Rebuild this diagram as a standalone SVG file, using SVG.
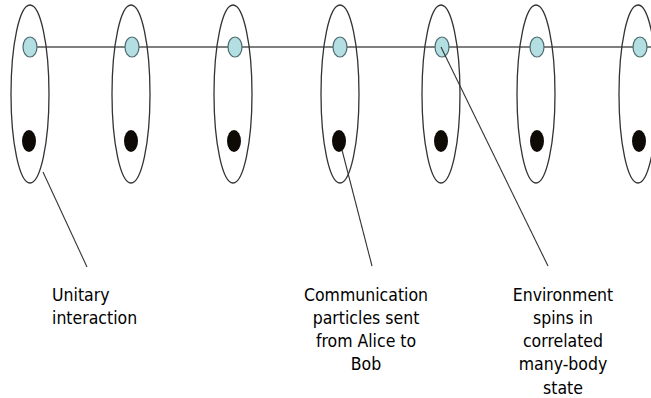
<svg xmlns="http://www.w3.org/2000/svg" width="651" height="398" viewBox="0 0 651 398">
<style>
.ring{fill:none;stroke:#333;stroke-width:1.3}
.spin{fill:#b4dfe2;stroke:#4d6a70;stroke-width:1.2}
.part{fill:#0e0a06}
.wire{stroke:#555;stroke-width:1.3;fill:none}
.lead{stroke:#333;stroke-width:1.1;fill:none}
text{font-family:"DejaVu Sans Condensed","DejaVu Sans",sans-serif;font-size:17.5px;fill:#000}
</style>
<rect width="651" height="398" fill="#fff"/>
<g id="connectors">
<line class="wire" x1="37" y1="47" x2="651" y2="47"/>
</g>
<g id="site1"><ellipse class="ring" cx="30" cy="94" rx="19" ry="89"/><ellipse class="spin" cx="30" cy="47" rx="7" ry="10"/><ellipse class="part" cx="29" cy="141" rx="7" ry="11"/></g>
<g id="site2"><ellipse class="ring" cx="131" cy="94" rx="19" ry="89"/><ellipse class="spin" cx="132" cy="47" rx="7" ry="10"/><ellipse class="part" cx="131" cy="141" rx="7" ry="11"/></g>
<g id="site3"><ellipse class="ring" cx="233" cy="94" rx="19" ry="89"/><ellipse class="spin" cx="235" cy="47" rx="7" ry="10"/><ellipse class="part" cx="234" cy="141" rx="7" ry="11"/></g>
<g id="site4"><ellipse class="ring" cx="340" cy="94" rx="19" ry="89"/><ellipse class="spin" cx="340" cy="47" rx="7" ry="10"/><ellipse class="part" cx="339" cy="141" rx="7" ry="11"/></g>
<g id="site5"><ellipse class="ring" cx="441" cy="94" rx="19" ry="89"/><ellipse class="spin" cx="442" cy="47" rx="7" ry="10"/><ellipse class="part" cx="441" cy="141" rx="7" ry="11"/></g>
<g id="site6"><ellipse class="ring" cx="536" cy="94" rx="19" ry="89"/><ellipse class="spin" cx="537" cy="47" rx="7" ry="10"/><ellipse class="part" cx="537" cy="141" rx="7" ry="11"/></g>
<g id="site7"><ellipse class="ring" cx="638" cy="94" rx="19" ry="89"/><ellipse class="spin" cx="640" cy="47" rx="7" ry="10"/><ellipse class="part" cx="639" cy="141" rx="7" ry="11"/></g>
<g id="leaders">
<line class="lead" x1="43" y1="172" x2="87" y2="267"/>
<line class="lead" x1="342" y1="150" x2="372" y2="266"/>
<line class="lead" x1="441" y1="47" x2="548" y2="266"/>
</g>
<g id="label-unitary"><text x="52" y="301">Unitary</text><text x="52" y="324">interaction</text></g>
<g id="label-comm" text-anchor="middle"><text x="366" y="301">Communication</text><text x="366" y="324">particles sent</text><text x="366" y="347">from Alice to</text><text x="366" y="370">Bob</text></g>
<g id="label-env" text-anchor="middle"><text x="563" y="301">Environment</text><text x="563" y="324">spins in</text><text x="563" y="347">correlated</text><text x="563" y="370">many-body</text><text x="563" y="394">state</text></g>
</svg>
